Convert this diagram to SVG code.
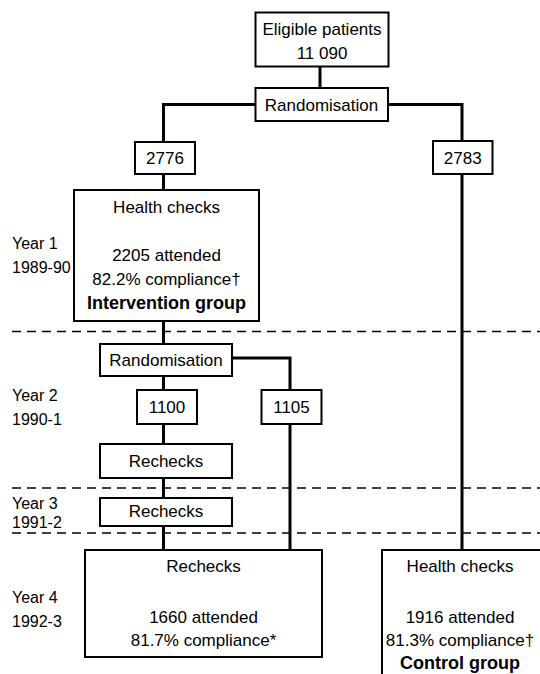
<svg xmlns="http://www.w3.org/2000/svg" width="540" height="674" viewBox="0 0 540 674">
<style>
.box{fill:#fff;stroke:#000;stroke-width:2}
.t{font-family:"Liberation Sans",Arial,sans-serif;font-size:17px;fill:#000;text-anchor:middle}
.b{font-weight:bold;font-size:18px}
.y{font-family:"Liberation Sans",Arial,sans-serif;font-size:16px;fill:#000}
.c{fill:none;stroke:#000;stroke-width:3}
.d{fill:none;stroke:#000;stroke-width:1.5;stroke-dasharray:9 6}
</style>
<rect width="540" height="674" fill="#fff"/>
<g id="dividers">
<line class="d" x1="12" y1="331.5" x2="540" y2="331.5"/>
<line class="d" x1="12" y1="488" x2="540" y2="488"/>
<line class="d" x1="12" y1="533" x2="540" y2="533"/>
</g>
<g id="connectors">
<line class="c" x1="320" y1="67" x2="320" y2="88"/>
<polyline class="c" points="255.5,104.5 163.5,104.5 163.5,142"/>
<polyline class="c" points="388,104.5 462,104.5 462,141"/>
<line class="c" x1="163.5" y1="174" x2="163.5" y2="190"/>
<line class="c" x1="462" y1="174" x2="462" y2="550"/>
<line class="c" x1="163.5" y1="321" x2="163.5" y2="344"/>
<polyline class="c" points="232,358 290,358 290,390"/>
<line class="c" x1="163.5" y1="376" x2="163.5" y2="390"/>
<line class="c" x1="163.5" y1="424" x2="163.5" y2="444"/>
<line class="c" x1="163.5" y1="478" x2="163.5" y2="498"/>
<line class="c" x1="163.5" y1="526" x2="163.5" y2="550"/>
<line class="c" x1="290" y1="424" x2="290" y2="550"/>
</g>
<g id="years">
<text class="y" x="12" y="249">Year 1</text>
<text class="y" x="12" y="273">1989-90</text>
<text class="y" x="12" y="401">Year 2</text>
<text class="y" x="12" y="425">1990-1</text>
<text class="y" x="12" y="509">Year 3</text>
<text class="y" x="12" y="528">1991-2</text>
<text class="y" x="12" y="603">Year 4</text>
<text class="y" x="12" y="627">1992-3</text>
</g>
<g id="eligible">
<rect class="box" x="255.5" y="12.5" width="133" height="54"/>
<text class="t" x="322" y="35">Eligible patients</text>
<text class="t" x="322" y="59">11 090</text>
</g>
<g id="randomisation1">
<rect class="box" x="255.5" y="88" width="132.5" height="33"/>
<text class="t" x="321.5" y="111">Randomisation</text>
</g>
<g id="n2776">
<rect class="box" x="135" y="142" width="60" height="32"/>
<text class="t" x="165" y="164">2776</text>
</g>
<g id="n2783">
<rect class="box" x="433" y="141" width="59.5" height="33"/>
<text class="t" x="462.7" y="164">2783</text>
</g>
<g id="healthchecks1">
<rect class="box" x="74" y="190" width="185" height="131"/>
<text class="t" x="166.5" y="213">Health checks</text>
<text class="t" x="166.5" y="261">2205 attended</text>
<text class="t" x="166.5" y="285">82.2% compliance†</text>
<text class="t b" x="166.5" y="309">Intervention group</text>
</g>
<g id="randomisation2">
<rect class="box" x="100" y="344" width="132" height="32"/>
<text class="t" x="166" y="366">Randomisation</text>
</g>
<g id="n1100">
<rect class="box" x="137" y="390" width="60" height="34"/>
<text class="t" x="167" y="413">1100</text>
</g>
<g id="n1105">
<rect class="box" x="261.5" y="390" width="60" height="34"/>
<text class="t" x="291.5" y="413">1105</text>
</g>
<g id="rechecks1">
<rect class="box" x="100" y="444" width="132" height="34"/>
<text class="t" x="166" y="467">Rechecks</text>
</g>
<g id="rechecks2">
<rect class="box" x="100" y="498" width="132" height="28"/>
<text class="t" x="166" y="517">Rechecks</text>
</g>
<g id="rechecks4">
<rect class="box" x="85" y="550" width="237" height="107"/>
<text class="t" x="203.5" y="572">Rechecks</text>
<text class="t" x="203.5" y="623">1660 attended</text>
<text class="t" x="203.5" y="646">81.7% compliance*</text>
</g>
<g id="control">
<rect class="box" x="382" y="550" width="200" height="150"/>
<text class="t" x="460" y="572">Health checks</text>
<text class="t" x="460" y="623">1916 attended</text>
<text class="t" x="460" y="646">81.3% compliance†</text>
<text class="t b" x="460" y="669">Control group</text>
</g>
</svg>
